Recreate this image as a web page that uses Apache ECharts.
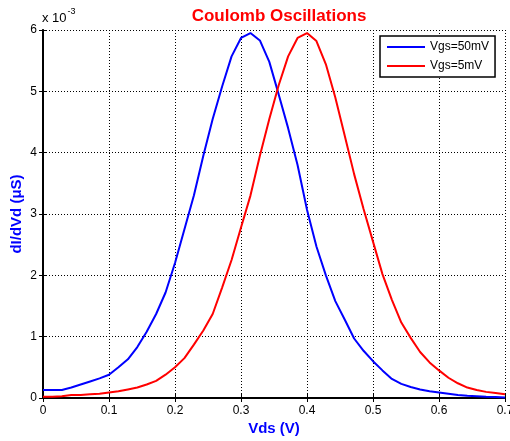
<!DOCTYPE html>
<html>
<head>
<meta charset="utf-8">
<script src="https://cdn.jsdelivr.net/npm/echarts@6/dist/echarts.min.js"></script>
<style>
html,body{margin:0;padding:0;background:#fff;}
#c{width:510px;height:441px;}
</style>
</head>
<body>
<div id="c"></div>
<script>
// Vds (V)
var vds = [0, 0.0143, 0.0286, 0.0429, 0.0571, 0.0714, 0.0857, 0.1, 0.1143, 0.1286,
  0.1429, 0.1571, 0.1714, 0.1857, 0.2, 0.2143, 0.2286, 0.2429, 0.2571, 0.2714,
  0.2857, 0.3, 0.3143, 0.3286, 0.3429, 0.3571, 0.3714, 0.3857, 0.4, 0.4143,
  0.4286, 0.4429, 0.4571, 0.4714, 0.4857, 0.5, 0.5143, 0.5286, 0.5429, 0.5571,
  0.5714, 0.5857, 0.6, 0.6143, 0.6286, 0.6429, 0.6571, 0.6714, 0.6857, 0.7];
// dI/dVd in units of 1e-3
var vgs50 = [0.13, 0.13, 0.13, 0.17, 0.22, 0.27, 0.32, 0.38, 0.5, 0.63,
  0.83, 1.08, 1.37, 1.72, 2.2, 2.75, 3.3, 3.95, 4.55, 5.08,
  5.57, 5.87, 5.95, 5.83, 5.48, 4.95, 4.4, 3.8, 3.07, 2.47,
  2.0, 1.58, 1.28, 0.97, 0.77, 0.6, 0.45, 0.31, 0.23, 0.18,
  0.14, 0.11, 0.09, 0.07, 0.05, 0.035, 0.03, 0.02, 0.015, 0.01];
var vgs5 = [0.02, 0.02, 0.03, 0.05, 0.05, 0.06, 0.07, 0.09, 0.11, 0.14,
  0.17, 0.22, 0.28, 0.38, 0.5, 0.65, 0.87, 1.1, 1.37, 1.8,
  2.25, 2.78, 3.3, 3.95, 4.55, 5.1, 5.57, 5.87, 5.95, 5.82,
  5.44, 4.9, 4.28, 3.65, 3.08, 2.55, 2.02, 1.6, 1.23, 0.98,
  0.75, 0.58, 0.45, 0.33, 0.24, 0.17, 0.13, 0.1, 0.08, 0.06];
var seriesNames = ['Vgs=50mV', 'Vgs=5mV'];
var xTicks = [0, 0.1, 0.2, 0.3, 0.4, 0.5, 0.6, 0.7];
var yTicks = [0, 1, 2, 3, 4, 5, 6];

function pairs(xs, ys) { return xs.map(function (x, i) { return [x, ys[i]]; }); }

var FONT = 'Liberation Sans, Arial, Helvetica, sans-serif';
var chart = echarts.init(document.getElementById('c'), null, {renderer: 'canvas'});
var axisCommon = {
  axisLine: {show: true, lineStyle: {color: '#000', width: 2}},
  axisTick: {show: true, inside: true, length: 4, lineStyle: {color: '#000', width: 1}}
};
chart.setOption({
  animation: false,
  backgroundColor: '#fff',
  title: {
    text: 'Coulomb Oscillations', left: 274, textAlign: 'center', top: 3,
    textStyle: {color: '#ff0000', fontFamily: FONT, fontWeight: 'bold', fontSize: 17}
  },
  grid: {left: 43, right: 5, top: 30, bottom: 43, containLabel: false, outerBoundsMode: 'none'},
  legend: {
    orient: 'vertical', left: 380, top: 36, width: 119,
    data: seriesNames, icon: 'rect',
    backgroundColor: '#fff', borderColor: '#000', borderWidth: 1.5,
    padding: [4, 6, 4, 7], itemGap: 5, itemWidth: 38, itemHeight: 2,
    textStyle: {fontFamily: FONT, fontSize: 12, color: '#000', lineHeight: 14}
  },
  xAxis: [
    Object.assign({
      type: 'value', position: 'bottom', min: 0, max: 0.7, interval: 0.1,
      name: 'Vds (V)', nameLocation: 'middle', nameGap: 23, nameMoveOverlap: false,
      nameTextStyle: {color: '#0000ff', fontFamily: FONT, fontWeight: 'bold', fontSize: 15},
      axisLabel: {
        color: '#000', fontFamily: FONT, fontSize: 12, margin: 7,
        formatter: function (v) {
          var t = xTicks.filter(function (k) { return Math.abs(k - v) < 1e-9; });
          return t.length ? (t[0] === 0 ? '0' : t[0].toFixed(1)) : '';
        }
      },
      splitLine: {show: true, lineStyle: {color: '#000', width: 1, type: [1, 2]}}
    }, axisCommon),
    Object.assign({
      type: 'value', position: 'top', min: 0, max: 0.7, interval: 0.1,
      axisLabel: {show: false}, splitLine: {show: false}
    }, axisCommon, {axisLine: {show: true, lineStyle: {color: '#000', width: 1.5}}})
  ],
  yAxis: [
    Object.assign({
      type: 'value', position: 'left', min: 0, max: 6, interval: 1,
      name: 'dI/dVd (\u03bcS)', nameLocation: 'middle', nameGap: 19, nameMoveOverlap: false,
      nameTextStyle: {color: '#0000ff', fontFamily: FONT, fontWeight: 'bold', fontSize: 15},
      axisLabel: {
        color: '#000', fontFamily: FONT, fontSize: 12, margin: 6,
        formatter: function (v) { return yTicks.indexOf(v) >= 0 ? String(v) : ''; }
      },
      splitLine: {show: true, lineStyle: {color: '#000', width: 1, type: [1, 2]}}
    }, axisCommon),
    Object.assign({
      type: 'value', position: 'right', min: 0, max: 6, interval: 1,
      axisLabel: {show: false}, splitLine: {show: false}
    }, axisCommon, {axisLine: {show: true, lineStyle: {color: '#000', width: 1.5}}})
  ],
  graphic: [{
    type: 'text', left: 42, top: 7,
    style: {
      text: '{a|x 10}{b|-3}',
      rich: {
        a: {fontFamily: FONT, fontSize: 13, fill: '#000', padding: [7, 0, 0, 0]},
        b: {fontFamily: FONT, fontSize: 9, fill: '#000', padding: [0, 0, 7, 1]}
      }
    }
  }],
  series: [
    {name: seriesNames[0], type: 'line', data: pairs(vds, vgs50), symbol: 'none', smooth: false,
     lineStyle: {color: '#0000ff', width: 2}, itemStyle: {color: '#0000ff'}, z: 3},
    {name: seriesNames[1], type: 'line', data: pairs(vds, vgs5), symbol: 'none', smooth: false,
     lineStyle: {color: '#ff0000', width: 2}, itemStyle: {color: '#ff0000'}, z: 3}
  ]
});
</script>
</body>
</html>
